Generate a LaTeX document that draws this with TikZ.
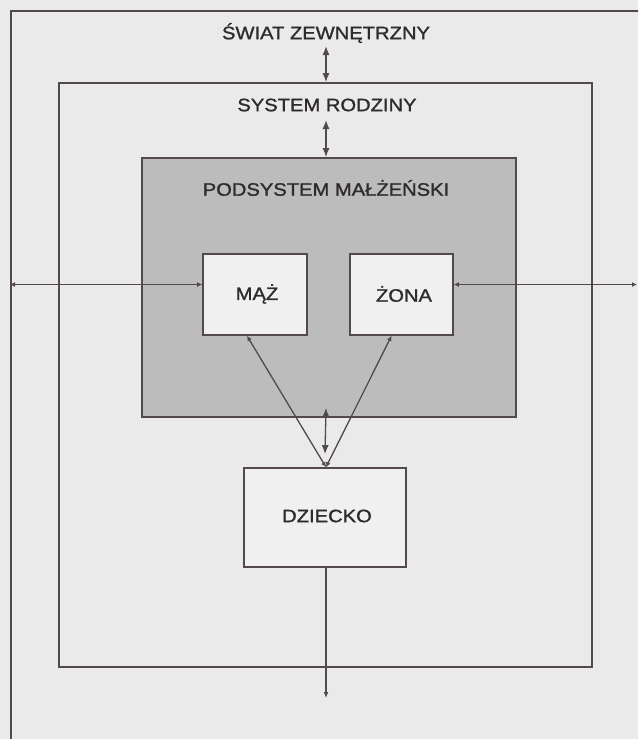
\documentclass[tikz,border=0pt]{standalone}
\usepackage{fontspec}
\setmainfont{Liberation Sans}[FakeStretch=1.12, FakeBold=1.3]
\usetikzlibrary{arrows.meta}
\definecolor{ink}{HTML}{544949}
\definecolor{paper}{HTML}{EBEAEA}
\definecolor{marfill}{HTML}{BDBCBC}
\definecolor{boxfill}{HTML}{F1F0F0}
\definecolor{txt}{HTML}{2F2B2B}
\tikzset{
  box/.style={draw=ink, line width=1.7pt, inner sep=0pt},
  lbl/.style={text=txt, font=\fontsize{18}{20}\selectfont, inner sep=0pt},
  conn/.style={draw=ink, line width=1.3pt},
  tipS/.style={{Latex[length=5pt,width=5pt]}-{Latex[length=5pt,width=5pt]}},
  tipL/.style={{Latex[length=9pt,width=7pt]}-{Latex[length=9pt,width=7pt]}}
}
\begin{document}
\begin{tikzpicture}[x=1pt,y=-1pt]
\fill[paper] (0,0) rectangle (638,739);
\useasboundingbox (0,0) rectangle (638,739);
\clip (0,0) rectangle (638,739);
% boxes
\node[box, anchor=north west, minimum width=720pt, minimum height=800pt] (outer) at (10,10) {};
\node[box, minimum width=533pt, minimum height=584pt] (fam) at (325.5,375) {};
\node[box, fill=marfill, minimum width=374pt, minimum height=259pt] (mar) at (329,287.5) {};
\node[box, fill=boxfill, minimum width=104pt, minimum height=81pt] (maz) at (255,294.5) {};
\node[box, fill=boxfill, minimum width=103pt, minimum height=81pt] (zona) at (401.5,294.5) {};
\node[box, fill=boxfill, minimum width=162pt, minimum height=99pt] (dz) at (325,517.5) {};
% labels
\node[lbl] (tsw) at (326,33) {ŚWIAT ZEWNĘTRZNY};
\node[lbl] (tsr) at (327,105) {SYSTEM RODZINY};
\node[lbl] (tpm) at (326,188) {PODSYSTEM MAŁŻEŃSKI};
\node[lbl] (tmaz) at (257,294) {MĄŻ};
\node[lbl] (tzona) at (404,294) {ŻONA};
\node[lbl] (tdz) at (327,516) {DZIECKO};
% connectors
\coordinate (swb) at (326,46);
\draw[conn, tipL] (swb) -- (swb |- fam.north);
\coordinate (srb) at (326,120);
\draw[conn, tipL] (srb) -- (srb |- mar.north);
\draw[conn, tipL] ([xshift=-3pt,yshift=10pt]mar.south) -- ([yshift=13pt]dz.north);
\coordinate (mazw) at ([yshift=10pt]maz.west);
\coordinate (zonae) at ([yshift=10pt]zona.east);
\draw[conn, tipS] (outer.north west |- mazw) -- (mazw);
\coordinate (rend) at (637,284.5);
\draw[conn, tipS] (zonae) -- (rend);
\draw[conn, tipS] ([xshift=1pt]dz.north) -- ([xshift=-8pt]maz.south);
\draw[conn, tipS] ([xshift=1pt]dz.north) -- ([xshift=-10pt]zona.south);
\coordinate (dend) at (326,698);
\draw[conn, -{Latex[length=6pt,width=5pt]}] ([xshift=1pt]dz.south) -- (dend);
\end{tikzpicture}
\end{document}
